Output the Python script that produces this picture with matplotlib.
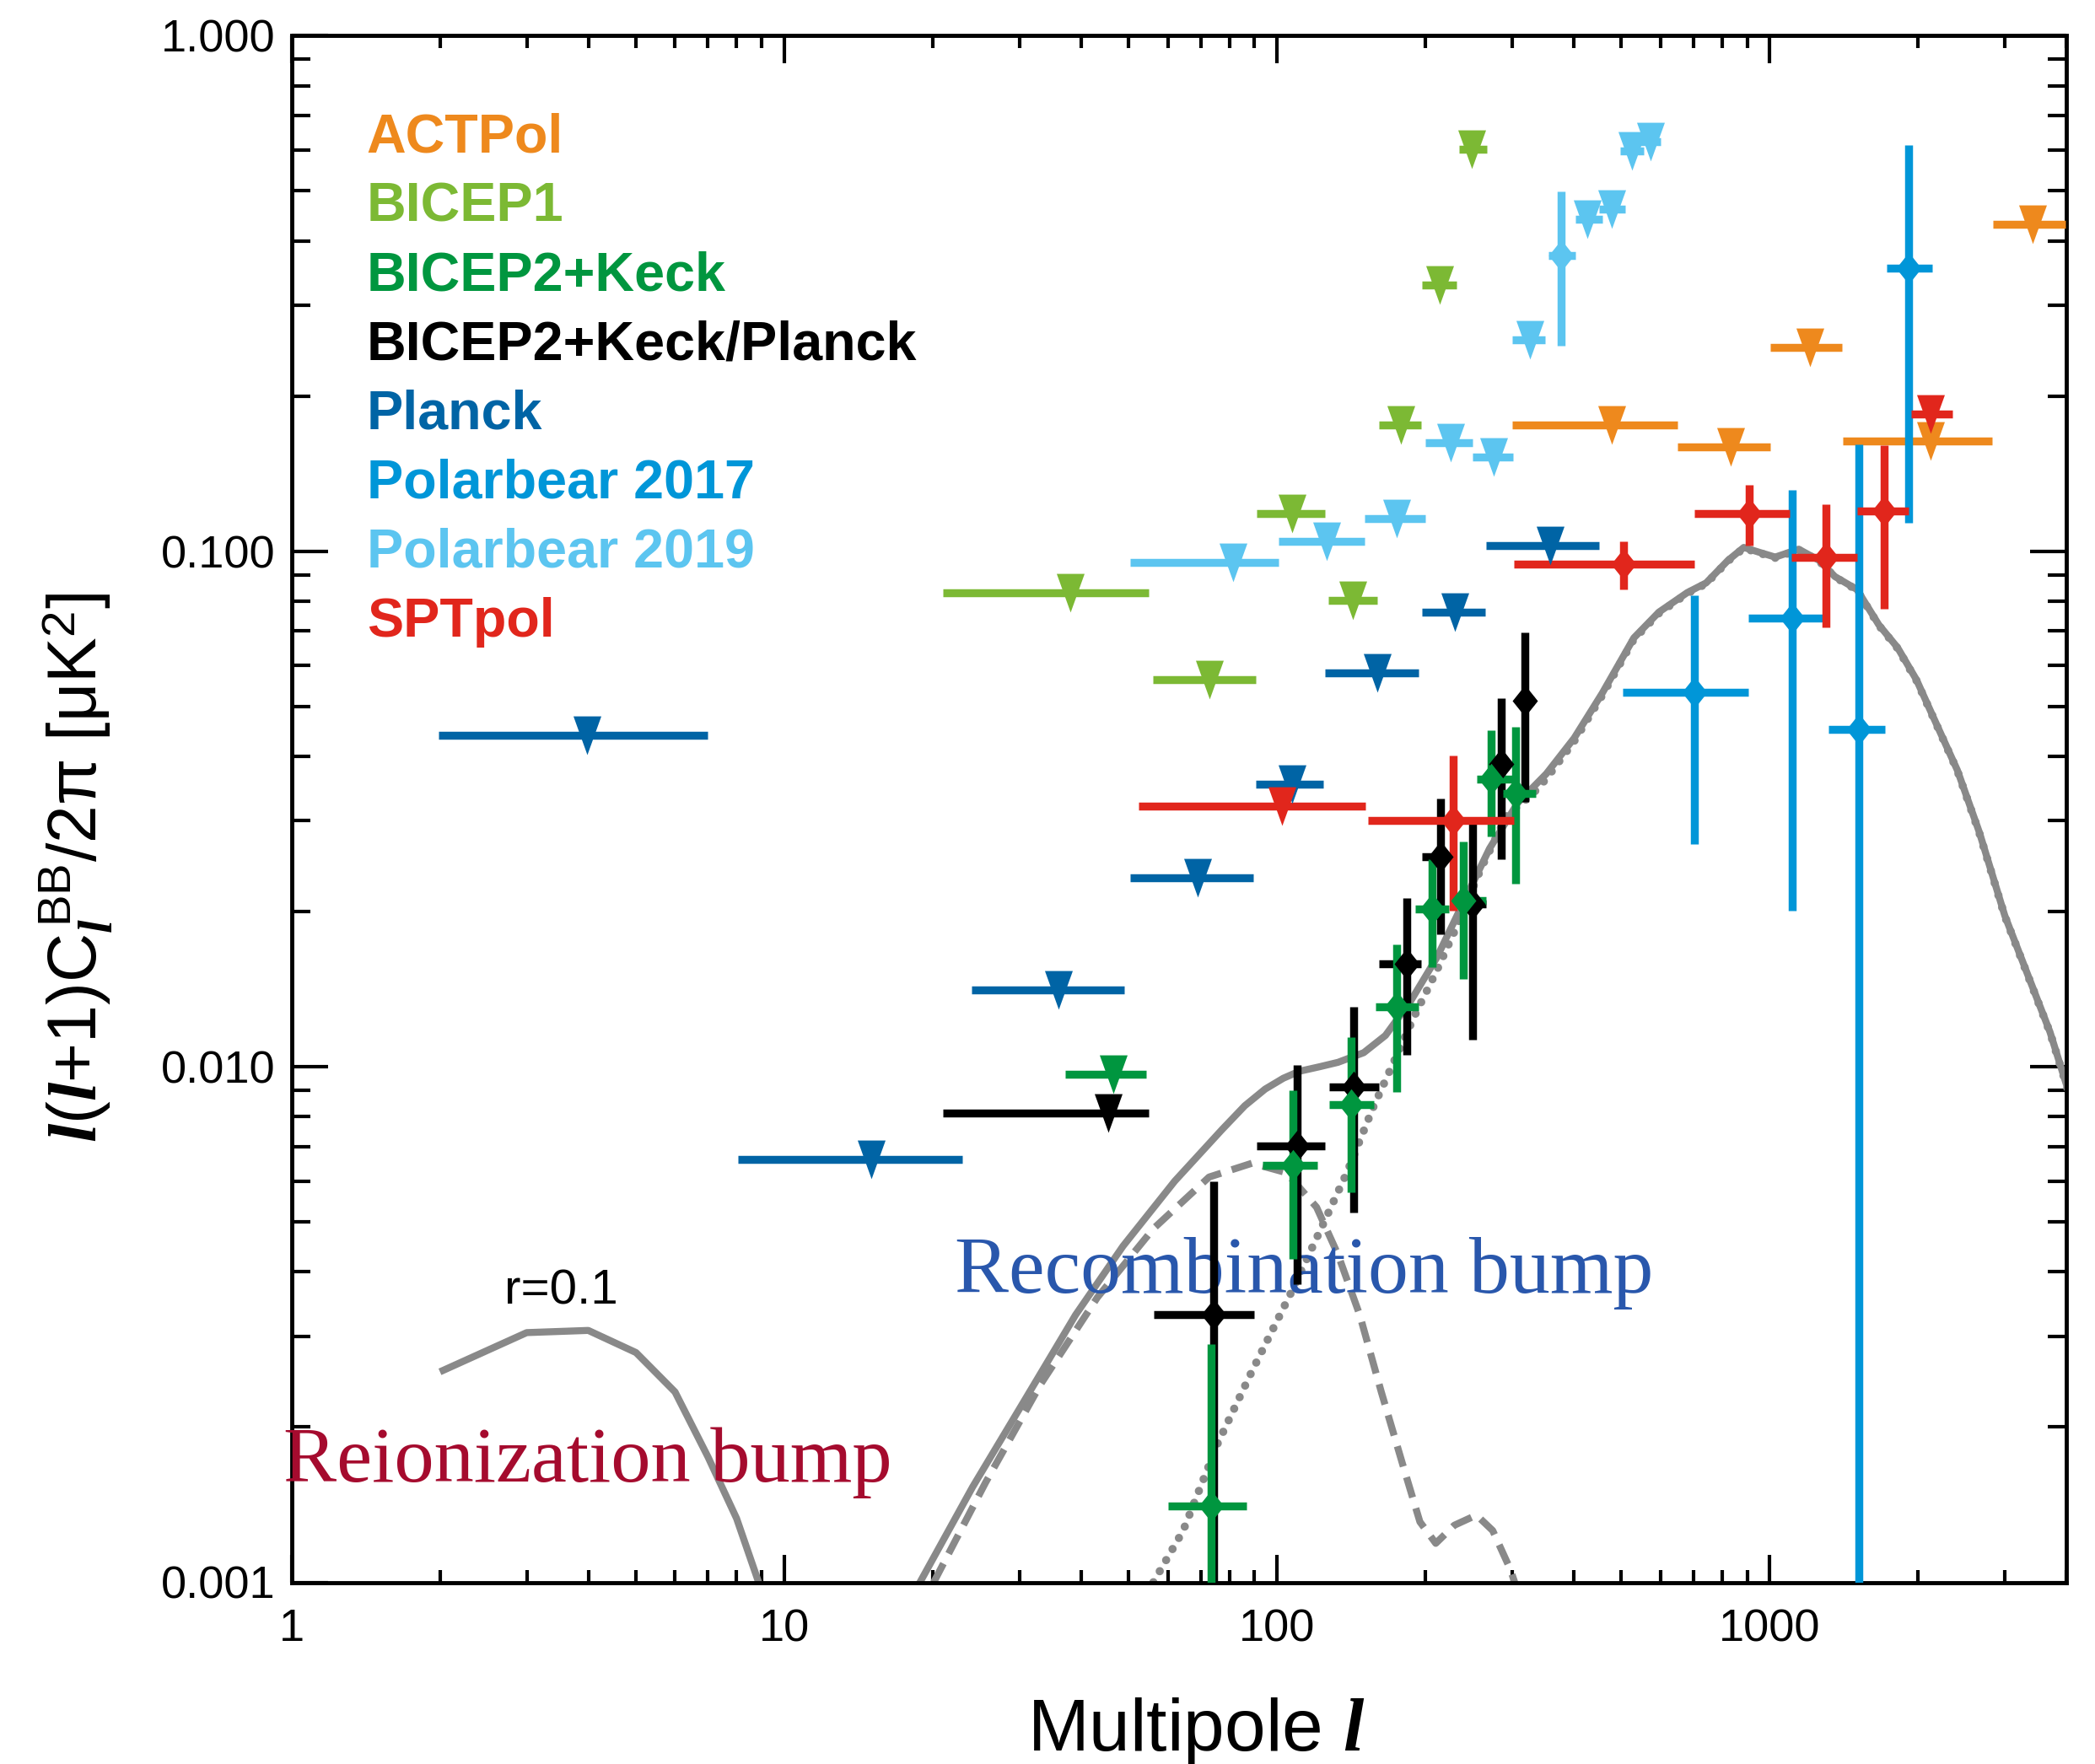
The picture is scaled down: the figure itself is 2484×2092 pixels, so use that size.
import numpy as np
import matplotlib
matplotlib.use('Agg')
import matplotlib.pyplot as plt
from matplotlib.ticker import NullFormatter, LogLocator

plt.rcParams['font.family'] = ['Liberation Sans', 'DejaVu Sans']
plt.rcParams['mathtext.fontset'] = 'custom'
plt.rcParams['mathtext.rm'] = 'Liberation Sans'
plt.rcParams['mathtext.it'] = 'Liberation Serif:italic:bold'
plt.rcParams['mathtext.bf'] = 'Liberation Sans:bold'

#---------------------------------------------------------------- data
# upper limits: multipole, bin edges, value
actpol_l = [478, 832, 1206, 2122, 3422]
actpol_lmin = [300, 651, 1004, 1410, 2840]
actpol_lmax = [651, 1004, 1404, 2831, 3990]
actpol_ul = [0.1757, 0.1596, 0.2483, 0.1636, 0.4302]

bicep1_l = [38.1, 72.8, 107.2, 142.4, 178.4, 213.8, 248.7]
bicep1_lmin = [21, 56, 91, 127, 161, 197, 234]
bicep1_lmax = [55, 90.5, 125, 160, 196, 231, 267]
bicep1_ul = [0.0832, 0.0563, 0.1185, 0.0804, 0.1757, 0.3286, 0.602]

bk_ul_l = [46.6]
bk_ul_lmin = [37.1]
bk_ul_lmax = [54.2]
bk_ul = [0.00966]
bk_l = [73.5, 107.8, 141.4, 174.6, 206.7, 238.8, 272, 304.5]
bk_lmin = [60, 93.3, 127.5, 158.6, 190.6, 224.6, 254, 288]
bk_lmax = [86.6, 121, 157, 194, 223, 266, 300, 335]
bk_val = [0.001405, 0.00644, 0.00844, 0.01305, 0.02026, 0.02103, 0.0362, 0.0339]
bk_top = [0.0029, 0.009, 0.0114, 0.0173, 0.02527, 0.02734, 0.0449, 0.0456]
bk_bot = [0.0001, 0.00424, 0.00571, 0.00892, 0.01563, 0.01482, 0.02794, 0.02266]

bkp_ul_l = [45.4]
bkp_ul_lmin = [21]
bkp_ul_lmax = [54.9]
bkp_ul = [0.00812]
bkp_l = [74.3, 110, 142.8, 183.5, 214.9, 249.4, 285, 318.8]
bkp_lmin = [56.2, 91, 127.5, 161, 197, 237, 275, 306]
bkp_lmax = [89.9, 125, 161, 196, 226, 266, 295, 332]
bkp_val = [0.0033, 0.00702, 0.00914, 0.01585, 0.0256, 0.02073, 0.0386, 0.0512]
bkp_top = [0.006, 0.01007, 0.01305, 0.02125, 0.0331, 0.0296, 0.0519, 0.0696]
bkp_bot = [0.0001, 0.00378, 0.00522, 0.01053, 0.01806, 0.0113, 0.02527, 0.0327]

planck_l = [3.98, 15.02, 36.0, 68.9, 107.2, 159.5, 230, 358.7]
planck_lmin = [1.99, 8.04, 24.0, 50.4, 90.5, 125, 196.7, 266]
planck_lmax = [7.0, 23, 49.0, 89.4, 124, 194, 265, 450]
planck_ul = [0.04395, 0.0066, 0.01409, 0.02328, 0.03534, 0.05809, 0.0761, 0.1025]

pb17_l = [703.4, 1109, 1514, 1913]
pb17_lmin = [503, 905, 1314, 1727]
pb17_lmax = [905, 1286, 1711, 2136]
pb17_val = [0.0533, 0.0741, 0.0452, 0.354]
pb17_top = [0.0821, 0.1314, 0.1613, 0.6137]
pb17_bot = [0.02707, 0.0201, 0.00001, 0.1136]

pb19_l = [81.4, 125.9, 175, 225.2, 274.9, 326.3, 426.6, 477.6, 526, 574]
pb19_lmin = [50.4, 100.6, 150.3, 200, 249, 300, 403, 451, 497, 542]
pb19_lmax = [100.6, 150.3, 200, 249, 301, 350, 458, 509, 556, 600]
pb19_ul = [0.0952, 0.1046, 0.1158, 0.1621, 0.1521, 0.257, 0.44, 0.46, 0.5986, 0.622]
pb19_det_l = [377.4]
pb19_det_lmin = [355]
pb19_det_lmax = [403]
pb19_det_val = [0.3753]
pb19_det_top = [0.499]
pb19_det_bot = [0.2506]

spt_ul_l = [102.3, 2122]
spt_ul_lmin = [52.4, 1935]
spt_ul_lmax = [151.4, 2350]
spt_ul = [0.03204, 0.1847]
spt_l = [228, 504.4, 908, 1299, 1704]
spt_lmin = [152.7, 303, 702, 1107, 1507]
spt_lmax = [303, 702, 1099, 1507, 1911]
spt_val = [0.03003, 0.0943, 0.1185, 0.0974, 0.1197]
spt_top = [0.0401, 0.1047, 0.1345, 0.1234, 0.1608]
spt_bot = [0.02006, 0.0843, 0.1026, 0.0713, 0.0773]

# model curves (r=0.1)
reion_l = [2, 3, 4, 5, 6, 7, 8, 9]
reion_y = [0.00256, 0.00305, 0.00308, 0.00279, 0.00234, 0.00175, 0.00133, 0.00096]
total_l = [18.85, 24.1, 30.7, 39.0, 48.7, 62.0, 77.3, 86, 94.6, 103, 111, 122, 133, 150, 166,
           187, 211, 237, 270, 308, 352, 401, 457, 530, 596, 680, 743, 823, 886, 953, 1026,
           1145, 1260, 1356, 1503, 1665, 1818, 1986, 2169, 2404, 2664, 3001, 3335, 3706, 4062]
total_y = [0.001, 0.00153, 0.00225, 0.0033, 0.00449, 0.006, 0.00755, 0.0084, 0.00905, 0.0095,
           0.0098, 0.0100, 0.0102, 0.01065, 0.0115, 0.01344, 0.01628, 0.0205, 0.0265, 0.0325,
           0.037, 0.0434, 0.053, 0.0679, 0.0762, 0.0831, 0.0868, 0.096, 0.1017, 0.0995,
           0.0974, 0.1009, 0.096, 0.0893, 0.0843, 0.072, 0.065, 0.0563, 0.0467, 0.0376,
           0.0285, 0.01963, 0.01514, 0.01168, 0.00882]
tensor_l = [20.1, 25.6, 33.2, 43.2, 56.1, 72.8, 89.0, 104.5, 120.3, 133, 147.2, 162.8,
            180, 195, 210, 229, 254, 274, 297.5, 308]
tensor_y = [0.001, 0.00156, 0.00243, 0.00357, 0.00485, 0.00611, 0.0065, 0.00623, 0.00534,
            0.00432, 0.0033, 0.00234, 0.00169, 0.00131, 0.00119, 0.00129, 0.00135, 0.00126,
            0.00106, 0.00096]
lens_l = [56.1, 64.5, 75.8, 89.0, 106.7, 122.8, 138.6, 156.4, 172.9, 191.1, 211, 229, 260,
          292.7, 330, 352, 401, 457, 530, 596, 680, 743, 823, 886, 953, 1026, 1145, 1260,
          1356, 1503, 1665, 1818, 1986, 2169, 2404, 2664, 3001, 3335, 3706, 4062]
lens_y = [0.001, 0.00126, 0.00186, 0.00257, 0.00364, 0.00485, 0.00623, 0.0083, 0.01026,
          0.01268, 0.01537, 0.01827, 0.02436, 0.0307, 0.0338, 0.0362, 0.0428, 0.0525,
          0.0675, 0.0758, 0.0828, 0.0865, 0.0957, 0.1014, 0.0992, 0.0971, 0.1006, 0.0957,
          0.0891, 0.0841, 0.0718, 0.0648, 0.0561, 0.0466, 0.0375, 0.0284, 0.01958, 0.0151,
          0.01165, 0.0088]

legend_names = ['ACTPol', 'BICEP1', 'BICEP2+Keck', 'BICEP2+Keck/Planck', 'Planck',
                'Polarbear 2017', 'Polarbear 2019', 'SPTpol']
legend_colors = ['#ee891d', '#7cb934', '#00963f', '#000000', '#0064a5',
                 '#0096d8', '#5cc5f0', '#e1261c']
c_act, c_b1, c_bk, c_bkp, c_pl, c_pb17, c_pb19, c_spt = legend_colors

#---------------------------------------------------------------- figure
fig = plt.figure(figsize=(24.84, 20.92), dpi=100)
ax = fig.add_axes([345.8 / 2484, 1 - 1876.5 / 2092, (2450 - 345.8) / 2484, (1876.5 - 42.3) / 2092])
ax.set_xscale('log')
ax.set_yscale('log')

gray = '#898989'
lw_c = 6
ax.plot(reion_l, reion_y, color=gray, lw=lw_c, zorder=2, solid_capstyle='butt')
ax.plot(total_l, total_y, color=gray, lw=lw_c, zorder=2, solid_joinstyle='round')
ax.plot(tensor_l, tensor_y, color=gray, lw=lw_c, dashes=(3.0, 1.6), zorder=2)
ax.plot(lens_l, lens_y, color=gray, lw=7, dashes=(0.01, 1.55), dash_capstyle='round', zorder=2)

tri = [(-0.72, 1), (0.72, 1), (0, -1)]
dia = [(0, 1), (0.8, 0), (0, -1), (-0.8, 0)]
ew = 6.8

def upper(l, lmin, lmax, y, color):
	l = np.array(l); y = np.array(y)
	xe = [l - np.array(lmin), np.array(lmax) - l]
	ax.errorbar(l, y, xerr=xe, fmt='none', ecolor=color, elinewidth=ew, capsize=0, zorder=4)
	ax.plot(l, y, ls='none', marker=tri, ms=33, color=color, mec='none', zorder=5)

def detect(l, lmin, lmax, y, top, bot, color):
	l = np.array(l); y = np.array(y)
	xe = [l - np.array(lmin), np.array(lmax) - l]
	ye = [y - np.array(bot), np.array(top) - y]
	ax.errorbar(l, y, xerr=xe, yerr=ye, fmt='none', ecolor=color, elinewidth=ew, capsize=0, zorder=4)
	ax.plot(l, y, ls='none', marker=dia, ms=27, color=color, mec='none', zorder=5)

upper(actpol_l, actpol_lmin, actpol_lmax, actpol_ul, c_act)
upper(bicep1_l, bicep1_lmin, bicep1_lmax, bicep1_ul, c_b1)
upper(bkp_ul_l, bkp_ul_lmin, bkp_ul_lmax, bkp_ul, c_bkp)
detect(bkp_l, bkp_lmin, bkp_lmax, bkp_val, bkp_top, bkp_bot, c_bkp)
upper(bk_ul_l, bk_ul_lmin, bk_ul_lmax, bk_ul, c_bk)
detect(bk_l, bk_lmin, bk_lmax, bk_val, bk_top, bk_bot, c_bk)
upper(planck_l, planck_lmin, planck_lmax, planck_ul, c_pl)
detect(pb17_l, pb17_lmin, pb17_lmax, pb17_val, pb17_top, pb17_bot, c_pb17)
upper(pb19_l, pb19_lmin, pb19_lmax, pb19_ul, c_pb19)
detect(pb19_det_l, pb19_det_lmin, pb19_det_lmax, pb19_det_val, pb19_det_top, pb19_det_bot, c_pb19)
upper(spt_ul_l, spt_ul_lmin, spt_ul_lmax, spt_ul, c_spt)
detect(spt_l, spt_lmin, spt_lmax, spt_val, spt_top, spt_bot, c_spt)

ax.set_xlim(1, 4000)
ax.set_ylim(0.001, 1.0)

#---------------------------------------------------------------- axes styling
ax.set_xticks([1, 10, 100, 1000], labels=['1', '10', '100', '1000'])
ax.set_yticks([0.001, 0.01, 0.1, 1.0], labels=['0.001', '0.010', '0.100', '1.000'])
ax.xaxis.set_minor_locator(LogLocator(base=10, subs=range(2, 10), numticks=20))
ax.yaxis.set_minor_locator(LogLocator(base=10, subs=range(2, 10), numticks=20))
ax.xaxis.set_minor_formatter(NullFormatter())
ax.yaxis.set_minor_formatter(NullFormatter())
ax.tick_params(which='both', direction='in', top=True, right=True, width=3, labelsize=39)
ax.tick_params(axis='x', which='major', length=24, pad=22)
ax.tick_params(axis='x', which='minor', length=11)
ax.tick_params(axis='y', which='major', length=31, pad=14)
ax.tick_params(axis='y', which='minor', length=16)
for s in ax.spines.values():
	s.set_linewidth(3.5)

#---------------------------------------------------------------- labels
for i in range(len(legend_names)):
	ax.text(0.0422, 0.9244 - i * 0.0447, legend_names[i], transform=ax.transAxes,
	        color=legend_colors[i], fontsize=46.5, fontweight='bold', va='baseline', ha='left')

ax.text(3.52, 0.00346, 'r=0.1', ha='center', va='baseline', fontsize=42)
ax.text(0.964, 0.00157, 'Reionization bump', family='Liberation Serif', color='#a50b2e',
        fontsize=68, ha='left', va='baseline', zorder=3)
ax.text(22.2, 0.00365, 'Recombination bump', family='Liberation Serif', color='#2957ac',
        fontsize=69, ha='left', va='baseline', zorder=3)

fig.text(0.571, 1 - 2076 / 2092, r'Multipole $l$', fontsize=63, ha='center', va='baseline')
fig.text(0.036, 1 - 1029 / 2092,
         r'$l(l\mathrm{+1)C}_{l}^{\,\mathrm{BB}}\mathrm{/2\pi\ [\mu K}^{2}\mathrm{]}$',
         fontsize=58, rotation=90, ha='center', va='center')

fig.savefig('out.png', dpi=100)
